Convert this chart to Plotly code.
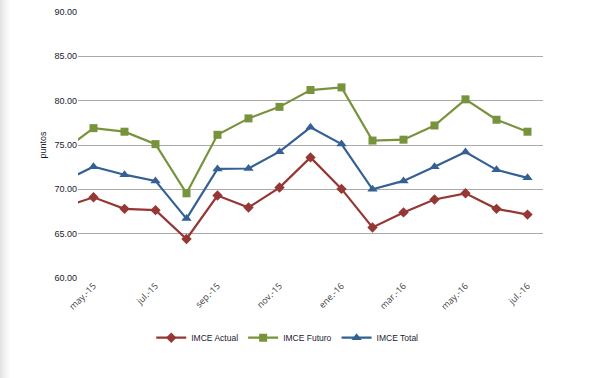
import plotly.graph_objects as go

months = ["abr.-15", "may.-15", "jun.-15", "jul.-15", "ago.-15", "sep.-15", "oct.-15",
          "nov.-15", "dic.-15", "ene.-16", "feb.-16", "mar.-16", "abr.-16", "may.-16",
          "jun.-16", "jul.-16"]
imce_actual = [67.95, 69.1, 67.8, 67.65, 64.4, 69.3, 67.95, 70.2, 73.6, 70.05, 65.7,
               67.4, 68.85, 69.55, 67.8, 67.15]
imce_futuro = [74.3, 76.9, 76.5, 75.1, 69.55, 76.15, 78.0, 79.3, 81.2, 81.5, 75.5,
               75.6, 77.2, 80.15, 77.85, 76.5]
imce_total = [70.85, 72.55, 71.65, 70.95, 66.7, 72.3, 72.35, 74.25, 77.0, 75.1, 70.0,
              70.95, 72.55, 74.2, 72.2, 71.3]
tick_labels = ["may.-15", "jul.-15", "sep.-15", "nov.-15", "ene.-16", "mar.-16",
               "may.-16", "jul.-16"]
y_ticks = [60, 65, 70, 75, 80, 85, 90]

fig = go.Figure()
series = [
    ("IMCE Actual", imce_actual, "#953735", "diamond", 8),
    ("IMCE Futuro", imce_futuro, "#77933C", "square", 8),
    ("IMCE Total", imce_total, "#356093", "triangle-up", 9),
]
for name, vals, col, sym, sz in series:
    fig.add_trace(go.Scatter(
        x=months, y=vals, name=name, mode="lines+markers",
        line=dict(color=col, width=2.2),
        marker=dict(symbol=sym, size=sz, color=col),
    ))

H = 378 - 100 - 12
shapes = []
for i, c in enumerate(["#e4e4e4", "#ececec", "#f2f2f2", "#f7f7f7", "#fbfbfb"]):
    shapes.append(dict(type="rect", xref="paper", yref="paper",
                       x0=(-78 + i * 2) / 465, x1=(-78 + i * 2 + 2) / 465,
                       y0=-100 / H, y1=1 + 12 / H,
                       line=dict(width=0), fillcolor=c, layer="below"))

fig.update_layout(
    width=605, height=378,
    margin=dict(l=78, r=62, t=12, b=100, autoexpand=False),
    paper_bgcolor="white", plot_bgcolor="white",
    font=dict(family="Liberation Sans, Arial", size=9, color="#1a1a2e"),
    showlegend=True,
    legend=dict(orientation="h", x=0.45, xanchor="center", y=-0.17, yanchor="top",
                font=dict(size=8.5, color="#1a1a2e"), itemwidth=30,
                tracegroupgap=0),
    xaxis=dict(type="category", categoryorder="array", categoryarray=months,
               range=[0.5, 15.5], tickmode="array", tickvals=tick_labels,
               ticktext=tick_labels, tickangle=-45, showgrid=False,
               zeroline=False, showline=False, ticks="", automargin=False,
               tickfont=dict(family="Open Sans", size=9, color="#404040")),
    yaxis=dict(range=[60, 90], tickvals=y_ticks,
               ticktext=[f"{v:.2f}" for v in y_ticks],
               showgrid=True, gridcolor="#aaaaaa", gridwidth=1,
               zeroline=False, showline=False, ticks="", automargin=False,
               title=dict(text="puntos", font=dict(size=9), standoff=6),
               tickfont=dict(size=9)),
    shapes=shapes,
)

fig.write_html("out.html", config={"displayModeBar": False},
               post_script="document.body.style.margin='0';document.body.style.overflow='hidden';")
